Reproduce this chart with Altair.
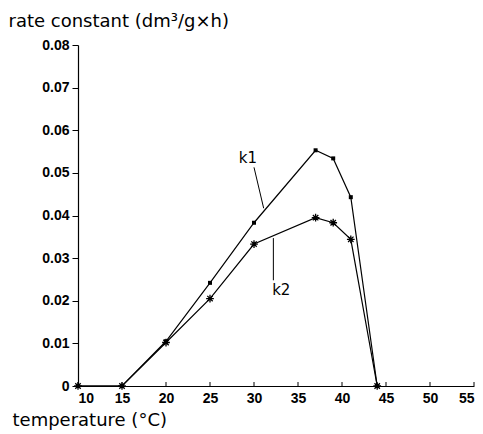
import altair as alt
import pandas as pd

# Rate constants k1 and k2 versus temperature
temps = [10, 15, 20, 25, 30, 37, 39, 41, 44]
k1 = [0, 0, 0.0105, 0.0242, 0.0383, 0.0553, 0.0534, 0.0443, 0]
k2 = [0, 0, 0.0102, 0.0205, 0.0333, 0.0395, 0.0383, 0.0344, 0]

x_ticks = [10, 15, 20, 25, 30, 35, 40, 45, 50, 55]
y_ticks = [0, 0.01, 0.02, 0.03, 0.04, 0.05, 0.06, 0.07, 0.08]

# Curve labels and their leader lines (data units)
label_names = ["k1", "k2"]
label_x = [29.3, 33.1]
label_y = [0.0536, 0.0225]
leader_x = [30.0, 32.2]
leader_y = [0.0513, 0.0347]
leader_x2 = [31.1, 32.2]
leader_y2 = [0.0417, 0.0248]

W, H = 396, 341

df = pd.DataFrame({
    "temp": temps * 2,
    "k": k1 + k2,
    "series": ["k1"] * len(temps) + ["k2"] * len(temps),
})
labels = pd.DataFrame({"name": label_names, "x": label_x, "y": label_y})
leaders = pd.DataFrame({"x": leader_x, "y": leader_y, "x2": leader_x2, "y2": leader_y2})
ticks_df = pd.DataFrame({"t": x_ticks})

x_scale = alt.Scale(domain=[10, 55], nice=False, zero=False)
y_scale = alt.Scale(domain=[0, 0.08], nice=False)

x_axis = alt.Axis(
    values=x_ticks, ticks=False, grid=False, labelPadding=5,
    labelFont="Liberation Sans", labelFontWeight="bold", labelFontSize=14,
    labelColor="black", domainColor="black", domainWidth=1.2,
    title="temperature (°C)", titleFont="DejaVu Sans", titleFontSize=18,
    titleFontWeight="normal", titleColor="black", titleAlign="left",
    titleBaseline="alphabetic", titleX=-66, titleY=39,
)
y_axis = alt.Axis(
    values=y_ticks, grid=False, tickSize=6, tickColor="black", tickWidth=1,
    labelPadding=3, labelFont="Liberation Sans", labelFontWeight="bold",
    labelFontSize=14, labelColor="black", domainColor="black", domainWidth=1.2,
    labelExpr="datum.value == 0 ? '0' : format(datum.value, '.2f')",
    title="rate constant (dm³/g×h)", titleFont="DejaVu Sans", titleFontSize=18,
    titleFontWeight="normal", titleColor="black", titleAngle=0,
    titleAlign="left", titleBaseline="alphabetic", titleX=-70, titleY=-19,
)

base = alt.Chart(df)

lines = base.mark_line(color="black", strokeWidth=1.2).encode(
    x=alt.X("temp:Q", scale=x_scale, axis=x_axis),
    y=alt.Y("k:Q", scale=y_scale, axis=y_axis),
    detail="series:N",
)

squares = base.transform_filter(alt.datum.series == "k1").mark_point(
    shape="square", filled=True, color="black", size=16, opacity=1
).encode(x="temp:Q", y="k:Q")

asterisk = "M-1,0H1M0,-1V1M-0.7,-0.7L0.7,0.7M-0.7,0.7L0.7,-0.7"
stars = base.transform_filter(alt.datum.series == "k2").mark_point(
    shape=asterisk, filled=False, color="black", strokeWidth=1.3, size=60, opacity=1
).encode(x="temp:Q", y="k:Q")

inner_ticks = alt.Chart(ticks_df).mark_rule(color="black", strokeWidth=1).encode(
    x="t:Q", y=alt.value(H), y2=alt.value(H - 4)
)

leader_rules = alt.Chart(leaders).mark_rule(color="black", strokeWidth=1).encode(
    x="x:Q", y="y:Q", x2="x2:Q", y2="y2:Q"
)

label_text = alt.Chart(labels).mark_text(
    font="DejaVu Sans", fontSize=15, color="black", align="center", baseline="middle"
).encode(x="x:Q", y="y:Q", text="name:N")

chart = alt.layer(lines, squares, stars, inner_ticks, leader_rules, label_text).properties(
    width=W, height=H,
    padding={"left": 78, "top": 45, "right": 9, "bottom": 48},
    autosize=alt.AutoSizeParams(type="none"),
    background="white",
).configure_view(stroke=None)

chart.save("out.html", embed_options={"renderer": "svg", "actions": False})
